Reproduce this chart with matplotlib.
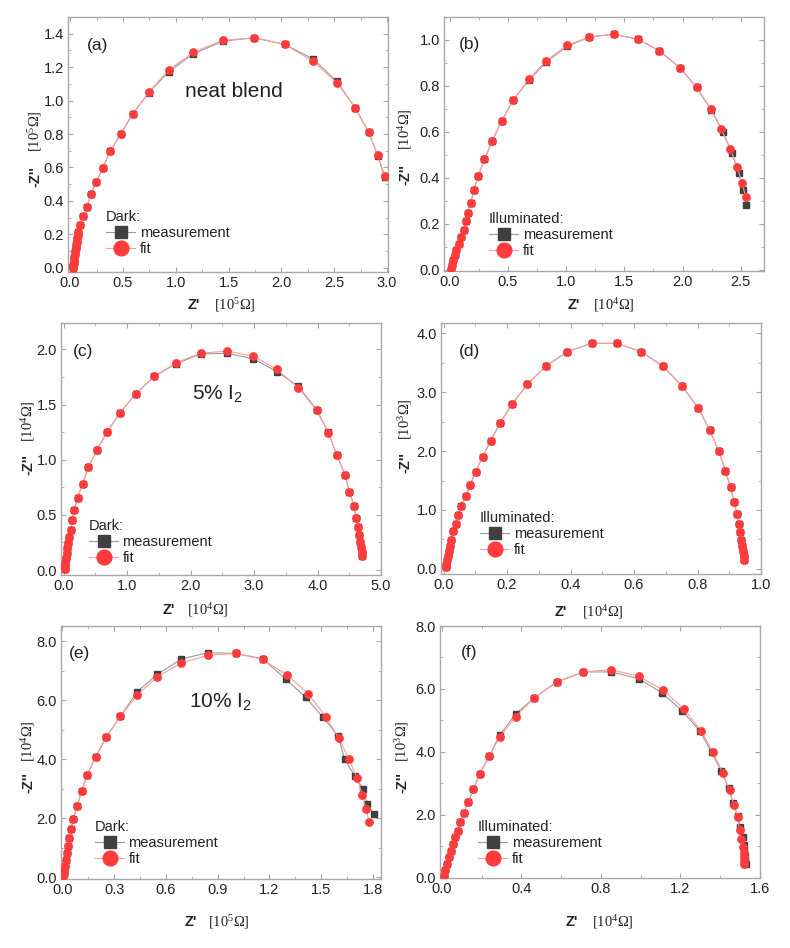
import matplotlib
matplotlib.use("Agg")
import matplotlib.pyplot as plt
from matplotlib.ticker import MultipleLocator, FormatStrFormatter, AutoMinorLocator

plt.rcParams['font.family'] = ['Liberation Sans', 'DejaVu Sans']
plt.rcParams['mathtext.fontset'] = 'custom'
plt.rcParams['mathtext.rm'] = 'Liberation Serif'
plt.rcParams['mathtext.bf'] = 'Liberation Sans:bold'
plt.rcParams['mathtext.sf'] = 'Liberation Sans'
plt.rcParams['mathtext.it'] = 'Liberation Serif:italic'

# (a) neat blend, dark
a_meas_x = [0.025, 0.027, 0.03, 0.033, 0.036, 0.04, 0.044, 0.048, 0.052, 0.056, 0.061, 0.066, 0.072, 0.079,
            0.095, 0.12, 0.158, 0.199, 0.246, 0.309, 0.378, 0.48, 0.594, 0.748, 0.932, 1.168, 1.446, 1.743,
            2.03, 2.299, 2.526, 2.70, 2.826, 2.914, 2.978]
a_meas_y = [0.001, 0.007, 0.017, 0.03, 0.045, 0.062, 0.08, 0.099, 0.118, 0.138, 0.157, 0.176, 0.195, 0.216,
            0.256, 0.31, 0.366, 0.44, 0.512, 0.596, 0.696, 0.802, 0.922, 1.048, 1.172, 1.28, 1.355, 1.376,
            1.336, 1.25, 1.115, 0.956, 0.812, 0.67, 0.542]
a_fit_x = a_meas_x
a_fit_y = [0.001, 0.007, 0.017, 0.03, 0.045, 0.062, 0.08, 0.099, 0.118, 0.138, 0.157, 0.176, 0.195, 0.216,
           0.256, 0.31, 0.366, 0.44, 0.512, 0.596, 0.696, 0.802, 0.922, 1.052, 1.182, 1.29, 1.36, 1.376,
           1.336, 1.236, 1.106, 0.956, 0.812, 0.672, 0.552]

# (b) neat blend, illuminated
b_meas_x = [0.009, 0.017, 0.029, 0.043, 0.057, 0.08, 0.10, 0.12, 0.135, 0.152, 0.178, 0.209, 0.243, 0.298,
            0.364, 0.447, 0.544, 0.68, 0.83, 1.008, 1.20, 1.41, 1.618, 1.80, 1.976, 2.12, 2.242,
            2.348, 2.425, 2.483, 2.52, 2.549]
b_meas_y = [0.004, 0.019, 0.04, 0.062, 0.084, 0.113, 0.142, 0.174, 0.211, 0.247, 0.292, 0.346, 0.408, 0.48,
            0.56, 0.648, 0.738, 0.825, 0.905, 0.972, 1.013, 1.025, 1.003, 0.953, 0.88, 0.794, 0.697,
            0.60, 0.506, 0.421, 0.346, 0.281]
b_fit_x = [0.009, 0.017, 0.029, 0.043, 0.057, 0.08, 0.10, 0.12, 0.135, 0.152, 0.178, 0.209, 0.243, 0.298,
           0.364, 0.447, 0.544, 0.68, 0.83, 1.008, 1.20, 1.41, 1.618, 1.80, 1.976, 2.12, 2.242,
           2.334, 2.41, 2.47, 2.511, 2.543]
b_fit_y = [0.004, 0.019, 0.04, 0.062, 0.084, 0.113, 0.142, 0.174, 0.211, 0.247, 0.292, 0.346, 0.408, 0.48,
           0.56, 0.648, 0.738, 0.83, 0.91, 0.977, 1.013, 1.025, 1.003, 0.953, 0.88, 0.794, 0.70,
           0.612, 0.525, 0.448, 0.378, 0.317]

# (c) 5% I2, dark
c_meas_x = [0.016, 0.021, 0.026, 0.037, 0.047, 0.058, 0.068, 0.079, 0.115, 0.135, 0.168, 0.22, 0.30, 0.393,
            0.525, 0.682, 0.892, 1.138, 1.427, 1.773, 2.162, 2.581, 2.99, 3.358, 3.699, 3.987, 4.171, 4.302,
            4.433, 4.501, 4.575, 4.606, 4.633, 4.654, 4.67, 4.68, 4.696, 4.706]
c_meas_y = [0.012, 0.036, 0.066, 0.106, 0.151, 0.196, 0.241, 0.302, 0.362, 0.45, 0.543, 0.65, 0.784, 0.935,
            1.086, 1.252, 1.427, 1.599, 1.756, 1.87, 1.96, 1.965, 1.915, 1.80, 1.665, 1.455, 1.25, 1.047,
            0.866, 0.709, 0.582, 0.474, 0.386, 0.317, 0.256, 0.205, 0.166, 0.13]
c_fit_x = c_meas_x
c_fit_y = [0.012, 0.036, 0.066, 0.106, 0.151, 0.196, 0.241, 0.302, 0.362, 0.45, 0.543, 0.65, 0.784, 0.935,
           1.086, 1.252, 1.427, 1.599, 1.756, 1.879, 1.967, 1.985, 1.94, 1.819, 1.653, 1.448, 1.246, 1.047,
           0.866, 0.709, 0.582, 0.474, 0.386, 0.317, 0.256, 0.205, 0.166, 0.13]

# (d) 5% I2, illuminated (measurement and fit coincide)
d_fit_x = [0.0073, 0.0084, 0.0105, 0.0125, 0.016, 0.019, 0.024, 0.031, 0.04, 0.047, 0.055, 0.071, 0.084,
           0.101, 0.123, 0.148, 0.178, 0.216, 0.264, 0.324, 0.39, 0.467, 0.546, 0.623, 0.692, 0.752, 0.803,
           0.839, 0.867, 0.888, 0.904, 0.916, 0.923, 0.93, 0.935, 0.938, 0.94, 0.943, 0.945, 0.946]
d_fit_y = [0.034, 0.073, 0.147, 0.215, 0.30, 0.384, 0.497, 0.638, 0.763, 0.91, 1.062, 1.243, 1.429, 1.65,
           1.904, 2.169, 2.475, 2.797, 3.13, 3.446, 3.684, 3.825, 3.825, 3.684, 3.435, 3.096, 2.723, 2.35,
           1.994, 1.667, 1.384, 1.13, 0.932, 0.763, 0.621, 0.497, 0.395, 0.30, 0.215, 0.147]
d_meas_x = d_fit_x
d_meas_y = d_fit_y

# (e) 10% I2, dark
e_meas_x = [0.006, 0.008, 0.012, 0.015, 0.019, 0.025, 0.031, 0.038, 0.05, 0.063, 0.087, 0.112, 0.144, 0.194,
            0.256, 0.337, 0.433, 0.55, 0.689, 0.846, 1.006, 1.16, 1.295, 1.41, 1.51, 1.598, 1.635, 1.693,
            1.743, 1.766, 1.804]
e_meas_y = [0.03, 0.11, 0.24, 0.39, 0.60, 0.82, 1.07, 1.33, 1.63, 1.98, 2.43, 2.91, 3.47, 4.09, 4.76, 5.46,
            6.28, 6.87, 7.39, 7.61, 7.58, 7.40, 6.71, 6.09, 5.42, 4.79, 4.0, 3.44, 2.99, 2.49, 2.15]
e_fit_x = [0.006, 0.008, 0.012, 0.015, 0.019, 0.025, 0.031, 0.038, 0.05, 0.063, 0.087, 0.112, 0.144, 0.194,
           0.256, 0.337, 0.433, 0.55, 0.689, 0.846, 1.006, 1.16, 1.304, 1.425, 1.526, 1.602, 1.66, 1.708,
           1.737, 1.76, 1.776]
e_fit_y = [0.03, 0.11, 0.24, 0.39, 0.60, 0.82, 1.07, 1.33, 1.63, 1.98, 2.43, 2.91, 3.47, 4.09, 4.76, 5.46,
           6.17, 6.79, 7.26, 7.52, 7.58, 7.38, 6.85, 6.21, 5.44, 4.71, 4.00, 3.36, 2.79, 2.31, 1.89]

# (f) 10% I2, illuminated
f_meas_x = [0.008, 0.017, 0.025, 0.033, 0.043, 0.055, 0.066, 0.08, 0.093, 0.11, 0.133, 0.158, 0.191, 0.238,
            0.292, 0.37, 0.465, 0.578, 0.711, 0.852, 0.989, 1.106, 1.21, 1.297, 1.356, 1.406, 1.442, 1.465,
            1.487, 1.50, 1.512, 1.517, 1.52, 1.524, 1.527, 1.528]
f_meas_y = [0.05, 0.24, 0.43, 0.65, 0.86, 1.07, 1.28, 1.49, 1.76, 2.06, 2.41, 2.81, 3.31, 3.87, 4.55, 5.20,
            5.72, 6.22, 6.54, 6.54, 6.33, 5.88, 5.29, 4.67, 3.98, 3.38, 2.86, 2.36, 1.96, 1.60, 1.29, 1.04,
            0.85, 0.69, 0.52, 0.45]
f_fit_x = [0.008, 0.017, 0.025, 0.033, 0.043, 0.055, 0.066, 0.08, 0.093, 0.11, 0.133, 0.158, 0.191, 0.238,
           0.292, 0.37, 0.465, 0.578, 0.711, 0.849, 0.989, 1.113, 1.218, 1.304, 1.364, 1.412, 1.447, 1.469,
           1.487, 1.497, 1.504, 1.512, 1.517, 1.519, 1.52, 1.522]
f_fit_y = [0.05, 0.24, 0.43, 0.65, 0.86, 1.07, 1.28, 1.49, 1.76, 2.06, 2.41, 2.81, 3.31, 3.87, 4.48, 5.11,
           5.72, 6.22, 6.54, 6.61, 6.41, 5.96, 5.35, 4.67, 3.98, 3.34, 2.78, 2.31, 1.92, 1.53, 1.23, 0.98,
           0.80, 0.67, 0.54, 0.42]

# positions are in pixels of the 790x948 canvas
panels = [
    dict(tag='(a)', m=(a_meas_x, a_meas_y), f=(a_fit_x, a_fit_y), title='Dark:', note='neat blend',
         xe=5, ye=5, xlim=(-0.02, 3.01), xs=0.5, ylim=(-0.025, 1.5), ys=0.2,
         rect=(68, 17, 388, 272), leg=(0.119, 0.063), tagpos=(0.06, 0.89), notepos=(0.366, 0.706),
         xl=(200, 214, 305), yl=(35, 166, 152)),
    dict(tag='(b)', m=(b_meas_x, b_meas_y), f=(b_fit_x, b_fit_y), title='Illuminated:', note=None,
         xe=4, ye=4, xlim=(-0.05, 2.70), xs=0.5, ylim=(-0.006, 1.10), ys=0.2,
         rect=(444, 17, 764, 271), leg=(0.141, 0.051), tagpos=(0.047, 0.89), notepos=None,
         xl=(580, 593, 305), yl=(405, 164, 150)),
    dict(tag='(c)', m=(c_meas_x, c_meas_y), f=(c_fit_x, c_fit_y), title='Dark:', note='5% I$_\\mathsf{2}$',
         xe=4, ye=4, xlim=(-0.04, 5.0), xs=1.0, ylim=(-0.045, 2.24), ys=0.5,
         rect=(61, 323, 381, 575), leg=(0.0875, 0.04), tagpos=(0.0375, 0.885), notepos=(0.41, 0.72),
         xl=(175, 187, 610), yl=(28, 454, 442)),
    dict(tag='(d)', m=(d_meas_x, d_meas_y), f=(d_fit_x, d_fit_y), title='Illuminated:', note=None,
         xe=4, ye=3, xlim=(-0.008, 1.0), xs=0.2, ylim=(-0.085, 4.17), ys=1.0,
         rect=(441, 323, 761, 574), leg=(0.122, 0.068), tagpos=(0.056, 0.885), notepos=None,
         xl=(567, 582, 612), yl=(405, 452, 440)),
    dict(tag='(e)', m=(e_meas_x, e_meas_y), f=(e_fit_x, e_fit_y), title='Dark:', note='10% I$_\\mathsf{2}$',
         xe=5, ye=4, xlim=(-0.0075, 1.846), xs=0.3, ylim=(-0.055, 8.51), ys=2.0,
         rect=(61, 626, 381, 879), leg=(0.106, 0.051), tagpos=(0.025, 0.893), notepos=(0.40, 0.70),
         xl=(197, 208, 922), yl=(28, 772, 762)),
    dict(tag='(f)', m=(f_meas_x, f_meas_y), f=(f_fit_x, f_fit_y), title='Illuminated:', note=None,
         xe=4, ye=3, xlim=(-0.01, 1.6), xs=0.4, ylim=(-0.01, 8.0), ys=2.0,
         rect=(440, 626, 760, 878), leg=(0.119, 0.048), tagpos=(0.066, 0.893), notepos=None,
         xl=(578, 592, 922), yl=(402, 772, 762)),
]

W, H = 790, 948
fig = plt.figure(figsize=(W / 100, H / 100), dpi=100)
frame = '#a8a8a8'
txt = '#222222'


def fx(px):
    return px / W


def fy(py):
    return 1 - py / H


for p in panels:
    x0, y0, x1, y1 = p['rect']
    ax = fig.add_axes([fx(x0), fy(y1), (x1 - x0) / W, (y1 - y0) / H])
    mx, my = p['m']
    fitx, fity = p['f']
    ax.plot(mx, my, '-', color='#9a9a9a', lw=0.8, marker='s', ms=4.3, mfc='#404040', mec='#404040',
            label='measurement', zorder=2)
    ax.plot(fitx, fity, '-', color='#ff9c9c', lw=0.8, marker='o', ms=5.3, mfc='#ff3b3b', mec='#ff3b3b',
            label='fit', zorder=3)
    ax.set_xlim(p['xlim'])
    ax.set_ylim(p['ylim'])
    ax.xaxis.set_major_locator(MultipleLocator(p['xs']))
    ax.yaxis.set_major_locator(MultipleLocator(p['ys']))
    ax.xaxis.set_minor_locator(AutoMinorLocator(2))
    ax.yaxis.set_minor_locator(AutoMinorLocator(2))
    ax.xaxis.set_major_formatter(FormatStrFormatter('%.1f'))
    ax.yaxis.set_major_formatter(FormatStrFormatter('%.1f'))
    ax.tick_params(which='both', direction='in', top=True, right=True, color=frame,
                   labelsize=10.5, labelcolor=txt, pad=3)
    ax.tick_params(which='major', length=3.5, width=0.8)
    ax.tick_params(which='minor', length=2, width=0.6)
    for s in ax.spines.values():
        s.set_color(frame)
        s.set_linewidth(1.0)

    # axis titles: bold sans symbol + serif unit
    zr, bl, yc = p['xl']
    fig.text(fx(zr), fy(yc), "Z'", fontsize=10.5, weight='bold', color=txt, ha='right', va='center')
    fig.text(fx(bl), fy(yc), "[10$^{%d}$Ω]" % p['xe'], fontsize=10.5, family='Liberation Serif',
             color=txt, ha='left', va='center')
    xc, ztop, bbot = p['yl']
    fig.text(fx(xc), fy(ztop), "-Z''", fontsize=10.5, weight='bold', color=txt, rotation=90,
             rotation_mode='anchor', ha='right', va='center')
    fig.text(fx(xc), fy(bbot), "[10$^{%d}$Ω]" % p['ye'], fontsize=10.5, family='Liberation Serif',
             color=txt, rotation=90, rotation_mode='anchor', ha='left', va='center')

    ax.text(p['tagpos'][0], p['tagpos'][1], p['tag'], transform=ax.transAxes, fontsize=12.5,
            color=txt, va='center', ha='left')
    if p['note']:
        ax.text(p['notepos'][0], p['notepos'][1], p['note'], transform=ax.transAxes, fontsize=15,
                color=txt, va='center', ha='left')

    leg = ax.legend(title=p['title'], loc='lower left', bbox_to_anchor=p['leg'], frameon=False,
                    fontsize=10.5, title_fontsize=10.5, markerscale=2, handlelength=2.0,
                    handletextpad=0.3, labelspacing=0.15, borderpad=0, borderaxespad=0,
                    alignment='left')
    for t in leg.get_texts():
        t.set_color(txt)
    leg.get_title().set_color(txt)

fig.savefig('out.png', dpi=100, facecolor='white')
